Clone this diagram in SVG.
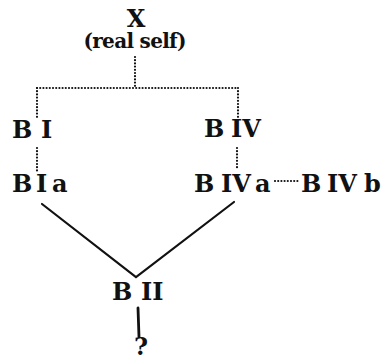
<svg xmlns="http://www.w3.org/2000/svg" width="386" height="357" viewBox="0 0 386 357">
<style>
text{font-family:"DejaVu Serif","Liberation Serif",serif;font-weight:bold;fill:#111;}
.lbl{font-size:24px;}
.sub{font-size:20px;}
.dot{fill:none;stroke:#111;stroke-width:2.2;stroke-linecap:round;stroke-dasharray:0 3.2;}
.sol{fill:none;stroke:#111;stroke-width:2.2;stroke-linecap:round;}
</style>
<rect width="386" height="357" fill="#fff"/>
<g id="connectors">
<path class="dot" d="M135,57 V88"/>
<path class="dot" d="M37,88 H238"/>
<path class="dot" d="M37,88 V118"/>
<path class="dot" d="M238,88 V118"/>
<path class="dot" d="M37,148 V171"/>
<path class="dot" d="M237,148 V170"/>
<path class="dot" d="M275,181 H300"/>
<path class="sol" d="M42,204 L136,277 L234,202"/>
<path class="sol" d="M138,308 L139,337" style="stroke-width:2.8"/>
</g>
<g id="X">
<text class="lbl" x="136" y="27" text-anchor="middle">X</text>
<text class="sub" x="135" y="47.5" text-anchor="middle" textLength="103">(real self)</text>
</g>
<g id="BI"><text class="lbl" y="138"><tspan x="12">B </tspan><tspan x="41">I</tspan></text></g>
<g id="BIa"><text class="lbl" y="192"><tspan x="12">B </tspan><tspan x="36">I </tspan><tspan x="52">a</tspan></text></g>
<g id="BIV"><text class="lbl" y="137"><tspan x="204">B </tspan><tspan x="231">IV</tspan></text></g>
<g id="BIVa"><text class="lbl" y="192"><tspan x="194">B </tspan><tspan x="221">IV</tspan><tspan x="255">a</tspan></text></g>
<g id="BIVb"><text class="lbl" y="192"><tspan x="301">B </tspan><tspan x="327">IV </tspan><tspan x="364">b</tspan></text></g>
<g id="BII"><text class="lbl" y="300"><tspan x="112">B </tspan><tspan x="141">II</tspan></text></g>
<g id="Q"><text class="lbl" x="141" y="355" text-anchor="middle">?</text></g>
</svg>
